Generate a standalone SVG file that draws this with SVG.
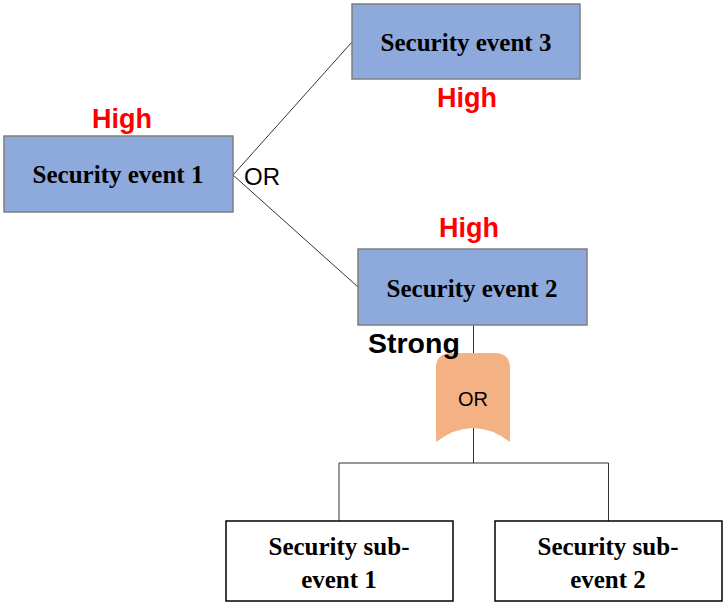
<svg xmlns="http://www.w3.org/2000/svg" width="723" height="602" viewBox="0 0 723 602">
<style>
.ev{fill:#8EA9DB;stroke:#7F7F7F;stroke-width:1.5}
.sub{fill:#FFFFFF;stroke:#000000;stroke-width:1.5}
.t{font-family:"Liberation Serif",serif;font-weight:bold;font-size:25px;fill:#000;text-anchor:middle}
.hi{font-family:"Liberation Sans",Arial,sans-serif;font-weight:bold;font-size:27px;fill:#FF0000;text-anchor:middle}
.lbl{font-family:"Liberation Sans",Arial,sans-serif;font-size:24px;fill:#000}
.ln{stroke:#333;stroke-width:1;fill:none}
</style>
<rect width="723" height="602" fill="#FFFFFF"/>
<g id="connectors">
<polyline class="ln" points="352,42 233,175 358,287"/>
<line class="ln" x1="473.5" y1="325" x2="473.5" y2="463"/>
<polyline class="ln" points="339,521 339,463 608.5,463 608.5,521"/>
</g>
<g id="or-gate">
<path d="M436,442 L436,368 Q436,354 450,353 L496,353 Q510,354 510,368 L510,442 Q473,414 436,442 Z" fill="#F4B183"/>
<line class="ln" x1="473.5" y1="428" x2="473.5" y2="463"/>
<text x="473" y="406" style="font-family:'Liberation Sans',Arial,sans-serif;font-size:20px;fill:#000;text-anchor:middle">OR</text>
</g>
<g id="event1">
<rect class="ev" x="4" y="136" width="229" height="76"/>
<text class="t" x="118" y="183">Security event 1</text>
<text class="hi" x="122" y="128">High</text>
<text class="lbl" x="244" y="185">OR</text>
</g>
<g id="event3">
<rect class="ev" x="352" y="4" width="228" height="75"/>
<text class="t" x="466" y="51">Security event 3</text>
<text class="hi" x="467" y="107">High</text>
</g>
<g id="event2">
<rect class="ev" x="358" y="249" width="229" height="76"/>
<text class="t" x="472" y="297">Security event 2</text>
<text class="hi" x="469" y="237">High</text>
<text x="368" y="353" style="font-family:'Liberation Sans',Arial,sans-serif;font-weight:bold;font-size:28.5px;fill:#000">Strong</text>
</g>
<g id="sub1">
<rect class="sub" x="226" y="521" width="227" height="80"/>
<text class="t" x="339" y="555">Security sub-</text>
<text class="t" x="339" y="588">event 1</text>
</g>
<g id="sub2">
<rect class="sub" x="495" y="521" width="227" height="80"/>
<text class="t" x="608" y="555">Security sub-</text>
<text class="t" x="608" y="588">event 2</text>
</g>
</svg>
